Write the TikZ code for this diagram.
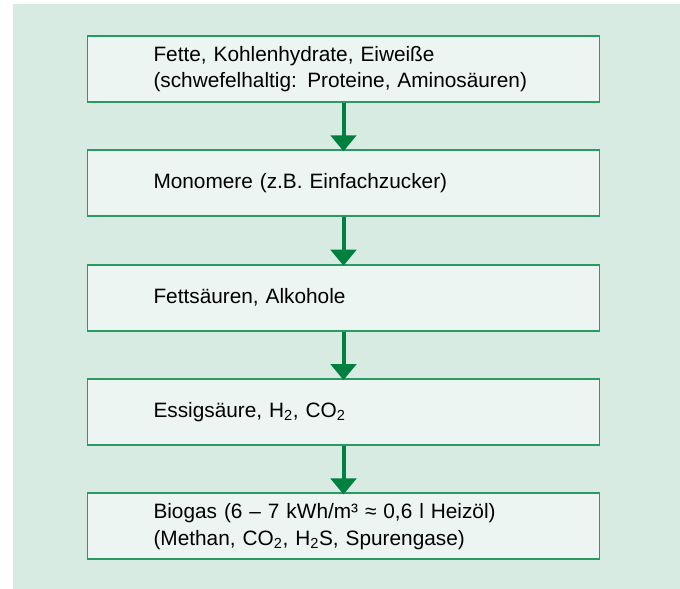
\documentclass[tikz,border=0pt]{standalone}
\usepackage{fontspec}
\setmainfont{Liberation Sans}
\usetikzlibrary{positioning,arrows.meta}
\definecolor{bggreen}{HTML}{D8EBE2}
\definecolor{boxfill}{HTML}{ECF5F1}
\definecolor{boxline}{HTML}{2A9A62}
\definecolor{arrowgreen}{HTML}{00803F}
\begin{document}
\begin{tikzpicture}[
  node distance=1.16cm,
  stage/.style={draw=boxline, line width=1.4pt, fill=boxfill, minimum height=1.65cm,
    inner xsep=1.65cm, text width=9.5cm, align=left, font=\fontsize{14.8}{19}\selectfont},
  flow/.style={arrowgreen, line width=0.1cm, -{Triangle[width=0.63cm,length=0.4cm]}, shorten >=-0.05cm}
]
  \useasboundingbox (0,0) rectangle (17,14.725);
  \fill[bggreen] (0.325,0) rectangle (17,14.625);
  \node[stage] (fette) at (8.5875,13.0) {Fette, Kohlenhydrate, Eiweiße\\(schwefelhaltig: Proteine, Aminosäuren)};
  \node[stage, below=of fette] (monomere) {Monomere (z.B. Einfachzucker)};
  \node[stage, below=of monomere] (saeuren) {Fettsäuren, Alkohole};
  \node[stage, below=of saeuren] (essig) {Essigsäure, H\textsubscript{2}, CO\textsubscript{2}};
  \node[stage, below=of essig] (biogas) {Biogas (6 – 7 kWh/m³ ≈ 0,6 l Heizöl)\\(Methan, CO\textsubscript{2}, H\textsubscript{2}S, Spurengase)};
  \draw[flow] (fette) -- (monomere);
  \draw[flow] (monomere) -- (saeuren);
  \draw[flow] (saeuren) -- (essig);
  \draw[flow] (essig) -- (biogas);
\end{tikzpicture}
\end{document}
